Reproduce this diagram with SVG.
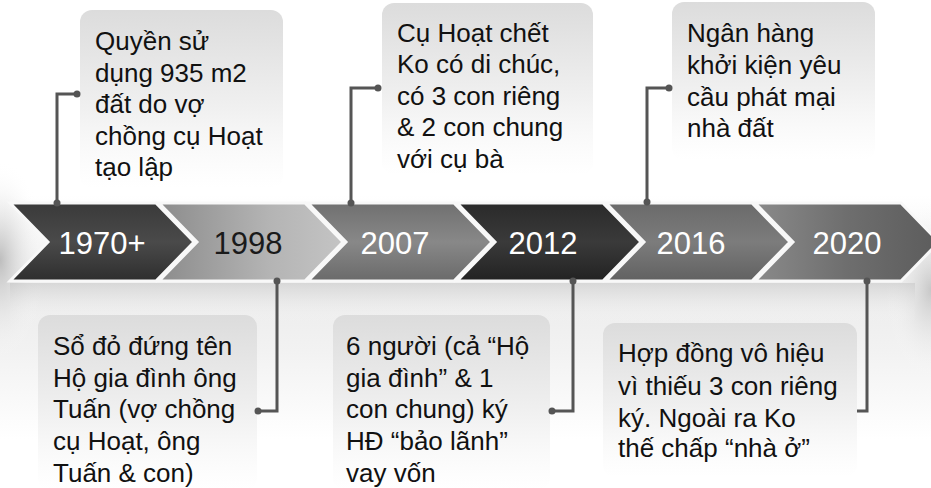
<svg xmlns="http://www.w3.org/2000/svg" width="931" height="488" viewBox="0 0 931 488">
<defs>
<linearGradient id="bg" x1="0" y1="0" x2="0" y2="1">
<stop offset="0" stop-color="#ffffff"/>
<stop offset="0.4" stop-color="#ffffff"/>
<stop offset="0.6" stop-color="#ececec"/>
<stop offset="0.72" stop-color="#f2f2f2"/>
<stop offset="0.9" stop-color="#ffffff"/>
</linearGradient>
<radialGradient id="lside" cx="0" cy="0.5" r="0.5">
<stop offset="0" stop-color="#b0b0b0" stop-opacity="0.8"/>
<stop offset="1" stop-color="#ffffff" stop-opacity="0"/>
</radialGradient>
<radialGradient id="rside" cx="1" cy="0.5" r="0.5">
<stop offset="0" stop-color="#b8b8b8" stop-opacity="0.7"/>
<stop offset="1" stop-color="#ffffff" stop-opacity="0"/>
</radialGradient>
<linearGradient id="box" x1="0" y1="0" x2="0" y2="1">
<stop offset="0" stop-color="#dcdcdc"/>
<stop offset="0.55" stop-color="#f0f0f0"/>
<stop offset="1" stop-color="#ffffff" stop-opacity="0.6"/>
</linearGradient>
<linearGradient id="refl" x1="0" y1="0" x2="0" y2="1">
<stop offset="0" stop-color="#c4c4c4" stop-opacity="0.9"/>
<stop offset="1" stop-color="#ffffff" stop-opacity="0"/>
</linearGradient>
<linearGradient id="g1" x1="0" y1="0" x2="0" y2="1">
<stop offset="0" stop-color="#3a3a3a"/><stop offset="0.5" stop-color="#4a4a4a"/><stop offset="1" stop-color="#2e2e2e"/>
</linearGradient>
<linearGradient id="g2" x1="0" y1="0" x2="1" y2="0">
<stop offset="0" stop-color="#8c8c8c"/><stop offset="0.6" stop-color="#b4b4b4"/><stop offset="1" stop-color="#c4c4c4"/>
</linearGradient>
<linearGradient id="g3" x1="0" y1="0" x2="0" y2="1">
<stop offset="0" stop-color="#707070"/><stop offset="0.5" stop-color="#888888"/><stop offset="1" stop-color="#6a6a6a"/>
</linearGradient>
<linearGradient id="g4" x1="0" y1="0" x2="0" y2="1">
<stop offset="0" stop-color="#2a2a2a"/><stop offset="0.5" stop-color="#3a3a3a"/><stop offset="1" stop-color="#222222"/>
</linearGradient>
<linearGradient id="g5" x1="0" y1="0" x2="0" y2="1">
<stop offset="0" stop-color="#6a6a6a"/><stop offset="0.5" stop-color="#7c7c7c"/><stop offset="1" stop-color="#616161"/>
</linearGradient>
<linearGradient id="g6" x1="0" y1="0" x2="1" y2="0">
<stop offset="0" stop-color="#8a8a8a"/><stop offset="0.5" stop-color="#6e6e6e"/><stop offset="1" stop-color="#5c5c5c"/>
</linearGradient>
<path id="chev" d="M0,0 H146 L184,39 L146,78 H0 L38,39 Z"/>
</defs>
<style>
.chev{stroke:#f8f8f8;stroke-width:3;stroke-linejoin:miter}
.yr{font-family:"Liberation Sans",Arial,sans-serif;font-size:31px;fill:#ffffff;text-anchor:middle}
.yr.dark{fill:#1a1a1a}
.box{fill:url(#box)}
.txt{font-family:"Liberation Sans",Arial,sans-serif;font-size:26px;fill:#111111}
.conn{fill:none;stroke:#555555;stroke-width:3}
.dot{fill:#555555}
</style>
<rect width="931" height="488" fill="url(#bg)"/>
<rect x="0" y="160" width="90" height="200" fill="url(#lside)"/>
<rect x="840" y="200" width="91" height="180" fill="url(#rside)"/>
<rect x="10" y="283" width="905" height="40" fill="url(#refl)" opacity="0.6"/>
<g id="timeline">
<g id="y1970"><use href="#chev" x="10" y="203" class="chev" fill="url(#g1)"/><text class="yr" x="102" y="254">1970+</text></g>
<g id="y1998"><use href="#chev" x="159" y="203" class="chev" fill="url(#g2)"/><text class="yr dark" x="248" y="254">1998</text></g>
<g id="y2007"><use href="#chev" x="308" y="203" class="chev" fill="url(#g3)"/><text class="yr" x="395" y="254">2007</text></g>
<g id="y2012"><use href="#chev" x="457" y="203" class="chev" fill="url(#g4)"/><text class="yr" x="543" y="254">2012</text></g>
<g id="y2016"><use href="#chev" x="606" y="203" class="chev" fill="url(#g5)"/><text class="yr" x="691" y="254">2016</text></g>
<g id="y2020"><use href="#chev" x="755" y="203" class="chev" fill="url(#g6)"/><text class="yr" x="847" y="254">2020</text></g>
</g>
<g id="box1970">
<rect class="box" x="80" y="10" width="203" height="178" rx="12"/>
<text class="txt"><tspan x="95" y="50">Quyền sử</tspan><tspan x="95" y="82">dụng 935 m2</tspan><tspan x="95" y="113">đất do vợ</tspan><tspan x="95" y="145">chồng cụ Hoạt</tspan><tspan x="95" y="176">tạo lập</tspan></text>
</g>
<g id="box2007">
<rect class="box" x="382" y="3" width="211" height="172" rx="12"/>
<text class="txt"><tspan x="397" y="42">Cụ Hoạt chết</tspan><tspan x="397" y="73">Ko có di chúc,</tspan><tspan x="397" y="105">có 3 con riêng</tspan><tspan x="397" y="136">&amp; 2 con chung</tspan><tspan x="397" y="168">với cụ bà</tspan></text>
</g>
<g id="box2016">
<rect class="box" x="672" y="2" width="203" height="158" rx="12"/>
<text class="txt"><tspan x="687" y="42">Ngân hàng</tspan><tspan x="687" y="74">khởi kiện yêu</tspan><tspan x="687" y="106">cầu phát mại</tspan><tspan x="687" y="137">nhà đất</tspan></text>
</g>
<g id="box1998">
<rect class="box" x="38" y="315" width="219" height="175" rx="12"/>
<text class="txt"><tspan x="53" y="355">Sổ đỏ đứng tên</tspan><tspan x="53" y="387">Hộ gia đình ông</tspan><tspan x="53" y="418">Tuấn (vợ chồng</tspan><tspan x="53" y="450">cụ Hoạt, ông</tspan><tspan x="53" y="482">Tuấn &amp; con)</tspan></text>
</g>
<g id="box2012">
<rect class="box" x="333" y="315" width="217" height="175" rx="12"/>
<text class="txt"><tspan x="346" y="355">6 người (cả “Hộ</tspan><tspan x="346" y="387">gia đình” &amp; 1</tspan><tspan x="346" y="418">con chung) ký</tspan><tspan x="346" y="450">HĐ “bảo lãnh”</tspan><tspan x="346" y="482">vay vốn</tspan></text>
</g>
<g id="box2020">
<rect class="box" x="603" y="323" width="254" height="154" rx="12"/>
<text class="txt"><tspan x="618" y="362">Hợp đồng vô hiệu</tspan><tspan x="618" y="395">vì thiếu 3 con riêng</tspan><tspan x="618" y="427">ký. Ngoài ra Ko</tspan><tspan x="618" y="457">thế chấp “nhà ở”</tspan></text>
</g>
<g id="connectors">
<path class="conn" d="M57,203 V94 H77"/>
<circle class="dot" cx="57" cy="203" r="3.5"/><circle class="dot" cx="77" cy="94" r="3.5"/>
<path class="conn" d="M351,203 V88 H378"/>
<circle class="dot" cx="351" cy="203" r="3.5"/><circle class="dot" cx="378" cy="88" r="3.5"/>
<path class="conn" d="M647,202 V88 H669"/>
<circle class="dot" cx="647" cy="202" r="3.5"/><circle class="dot" cx="669" cy="88" r="3.5"/>
<path class="conn" d="M277,281 V411 H258"/>
<circle class="dot" cx="277" cy="281" r="3.5"/><circle class="dot" cx="258" cy="411" r="3.5"/>
<path class="conn" d="M573,281 V411 H552"/>
<circle class="dot" cx="573" cy="281" r="3.5"/><circle class="dot" cx="552" cy="411" r="3.5"/>
<path class="conn" d="M867,281 V411 H857"/>
<circle class="dot" cx="867" cy="281" r="3.5"/>
</g>
</svg>
